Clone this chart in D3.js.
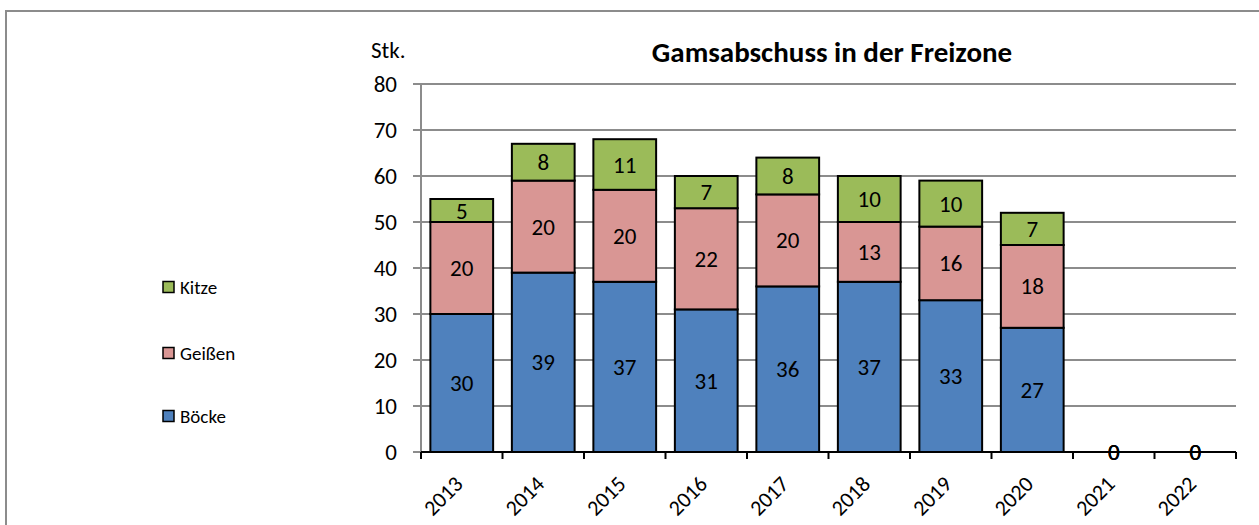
<!DOCTYPE html>
<html>
<head>
<meta charset="utf-8">
<script src="https://cdn.jsdelivr.net/npm/d3@7"></script>
<style>
  body { margin: 0; background: #fff; }
  text { font-family: Carlito, Calibri, "Open Sans", sans-serif; }
</style>
</head>
<body>
<div id="chart"></div>
<script>
/* DATA */
const years = ["2013", "2014", "2015", "2016", "2017", "2018", "2019", "2020", "2021", "2022"];
const boecke = [30, 39, 37, 31, 36, 37, 33, 27, 0, 0];
const geissen = [20, 20, 20, 22, 20, 13, 16, 18, 0, 0];
const kitze = [5, 8, 11, 7, 8, 10, 10, 7, 0, 0];
const seriesNames = ["Böcke", "Geißen", "Kitze"];
const yTicks = [0, 10, 20, 30, 40, 50, 60, 70, 80];

/* CONSTANTS */
const width = 1259, height = 525;
const margin = { top: 84, bottom: 73, left: 421, right: 23 };
const colors = ["#4F81BD", "#D99694", "#9BBB59"];

const svg = d3.select("#chart").append("svg")
  .attr("width", width)
  .attr("height", height);

// outer chart border
svg.append("rect")
  .attr("x", 6).attr("y", 11)
  .attr("width", width + 10).attr("height", height + 10)
  .attr("fill", "none")
  .attr("stroke", "#8c8c8c")
  .attr("stroke-width", 2);

const rows = years.map((y, i) => ({ year: y, "Böcke": boecke[i], "Geißen": geissen[i], "Kitze": kitze[i] }));
const stacked = d3.stack().keys(seriesNames)(rows);

const xScale = d3.scaleBand()
  .domain(years)
  .range([margin.left, width - margin.right])
  .paddingInner(0.23)
  .paddingOuter(0.115);

const yScale = d3.scaleLinear()
  .domain([0, 80])
  .range([height - margin.bottom, margin.top]);

// gridlines
svg.append("g")
  .selectAll("line")
  .data(yTicks)
  .join("line")
  .attr("x1", margin.left - 8)
  .attr("x2", width - margin.right)
  .attr("y1", d => yScale(d))
  .attr("y2", d => yScale(d))
  .attr("stroke", "#8c8c8c")
  .attr("stroke-width", 2);

// y axis line
svg.append("line")
  .attr("x1", margin.left).attr("x2", margin.left)
  .attr("y1", yScale(80)).attr("y2", yScale(0))
  .attr("stroke", "#8c8c8c")
  .attr("stroke-width", 2);

// y tick labels
svg.append("g")
  .selectAll("text")
  .data(yTicks)
  .join("text")
  .attr("x", 397)
  .attr("y", d => yScale(d))
  .attr("dy", "0.35em")
  .attr("text-anchor", "end")
  .attr("font-size", 23)
  .text(d => d);

svg.append("text")
  .attr("x", 371).attr("y", 58)
  .attr("font-size", 23)
  .text("Stk.");

svg.append("text")
  .attr("x", 832).attr("y", 62)
  .attr("text-anchor", "middle")
  .attr("font-size", 29)
  .attr("font-weight", "bold")
  .text("Gamsabschuss in der Freizone");

// bars
const layer = svg.append("g")
  .selectAll("g")
  .data(stacked)
  .join("g")
  .attr("fill", (d, i) => colors[i]);

layer.selectAll("rect")
  .data(d => d)
  .join("rect")
  .attr("x", d => xScale(d.data.year))
  .attr("width", xScale.bandwidth())
  .attr("y", d => yScale(d[1]))
  .attr("height", d => yScale(d[0]) - yScale(d[1]))
  .attr("stroke", "#000")
  .attr("stroke-width", 2);

// x axis
const xAxisGroup = svg.append("g")
  .attr("transform", `translate(0, ${yScale(0)})`);
xAxisGroup.append("line")
  .attr("x1", margin.left).attr("x2", width - margin.right)
  .attr("stroke", "#000").attr("stroke-width", 2);
const bounds = d3.range(years.length + 1).map(i => margin.left + i * (width - margin.left - margin.right) / years.length);
xAxisGroup.selectAll(".tick")
  .data(bounds)
  .join("line")
  .attr("class", "tick")
  .attr("x1", d => d).attr("x2", d => d)
  .attr("y1", 0).attr("y2", 7)
  .attr("stroke", "#000").attr("stroke-width", 2);

// value labels
layer.selectAll("text")
  .data(d => d)
  .join("text")
  .attr("x", d => xScale(d.data.year) + xScale.bandwidth() / 2)
  .attr("y", d => (yScale(d[0]) + yScale(d[1])) / 2)
  .attr("dy", "0.35em")
  .attr("text-anchor", "middle")
  .attr("font-size", 23)
  .attr("fill", "#000")
  .text(d => d[1] - d[0]);

// x labels rotated
svg.append("g")
  .selectAll("text")
  .data(years)
  .join("text")
  .attr("transform", d => `translate(${xScale(d) + xScale.bandwidth() / 2 - 3}, ${yScale(0) + 28}) rotate(-45)`)
  .attr("text-anchor", "end")
  .attr("dy", "0.35em")
  .attr("font-size", 22)
  .text(d => d);

// legend
const legendY = [416, 353, 287];
const legend = svg.append("g")
  .selectAll("g")
  .data(seriesNames)
  .join("g")
  .attr("transform", (d, i) => `translate(163, ${legendY[i]})`);
legend.append("rect")
  .attr("x", 0).attr("y", -5.5)
  .attr("width", 11).attr("height", 11)
  .attr("fill", (d, i) => colors[i])
  .attr("stroke", "#000").attr("stroke-width", 1.5);
legend.append("text")
  .attr("x", 17).attr("dy", "0.35em")
  .attr("font-size", 19)
  .text(d => d);
</script>
</body>
</html>
